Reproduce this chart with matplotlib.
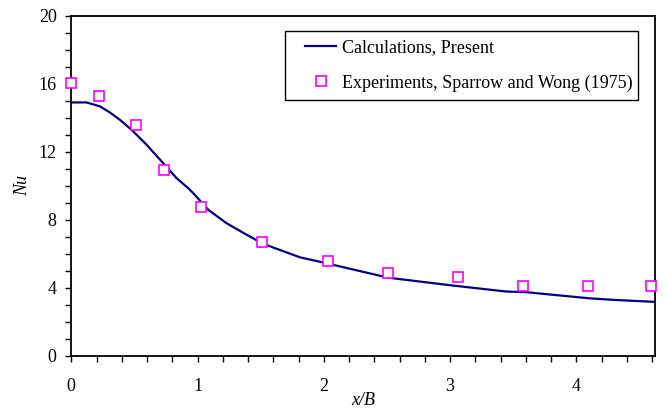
import matplotlib
matplotlib.use("Agg")
import matplotlib.pyplot as plt
from matplotlib.ticker import MultipleLocator
from matplotlib.patches import Rectangle

# Data
calc_x = [0.0, 0.12, 0.227, 0.306, 0.385, 0.478, 0.597, 0.728, 0.834, 0.926, 0.966, 1.085, 1.23,
          1.39, 1.52, 1.81, 2.02, 2.21, 2.51, 3.02, 3.44, 3.6, 4.1, 4.31, 4.62]
calc_y = [14.9, 14.9, 14.67, 14.31, 13.88, 13.29, 12.41, 11.33, 10.45, 9.86, 9.57, 8.59, 7.8,
          7.12, 6.59, 5.8, 5.45, 5.12, 4.6, 4.14, 3.79, 3.75, 3.39, 3.29, 3.18]
exp_x = [0.0, 0.22, 0.51, 0.735, 1.03, 1.51, 2.03, 2.51, 3.06, 3.58, 4.09, 4.59]
exp_y = [16.04, 15.29, 13.55, 10.9, 8.75, 6.67, 5.6, 4.9, 4.65, 4.12, 4.12, 4.12]
legend_labels = ["Calculations, Present", "Experiments, Sparrow and Wong (1975)"]
x_ticks = [0, 1, 2, 3, 4]
y_ticks = [0, 4, 8, 12, 16, 20]

plt.rcParams['font.family'] = ['Liberation Serif', 'DejaVu Serif']

fig = plt.figure(figsize=(6.66, 4.12), dpi=100)
ax = fig.add_axes([0.107, 0.136, 0.876, 0.826])

l1, = ax.plot(calc_x, calc_y, color='#000080', lw=1.6, label=legend_labels[0],
              solid_joinstyle='round')
l2, = ax.plot(exp_x, exp_y, linestyle='none', marker='s', markersize=7.2,
              markerfacecolor='white', markeredgecolor='#FF00FF', markeredgewidth=1.2,
              label=legend_labels[1], clip_on=False, zorder=3)

ax.set_xlim(0, 4.62)
ax.set_ylim(0, 20)
ax.set_xticks(x_ticks)
ax.set_yticks(y_ticks)
ax.xaxis.set_minor_locator(MultipleLocator(0.2))
ax.yaxis.set_minor_locator(MultipleLocator(1))
ax.tick_params(axis='both', which='both', direction='out', length=4, width=1, labelsize=13, color='black')
ax.tick_params(axis='y', which='both', pad=6.5)
ax.tick_params(axis='x', which='both', pad=12)
ax.tick_params(axis='x', which='both', top=False)
ax.tick_params(axis='y', which='both', right=False)
for s in ax.spines.values():
    s.set_linewidth(1.3)
    s.set_color('black')

ax.set_xlabel('x/B', fontsize=13, style='italic', labelpad=-2.5)
ax.set_ylabel('Nu', fontsize=13, style='italic', labelpad=5)

# Legend frame
ax.add_patch(Rectangle((0.366, 0.753), 0.605, 0.201, transform=ax.transAxes,
                       fill=True, facecolor='white', edgecolor='black', lw=1.0, zorder=4))
leg = ax.legend(handles=[l1, l2], loc='upper left', bbox_to_anchor=(0.40, 0.93),
                frameon=False, fontsize=13, borderpad=0, borderaxespad=0,
                handlelength=1.76, handletextpad=0.3, labelspacing=1.0)
leg.set_zorder(5)

fig.savefig('out.png', dpi=100)
